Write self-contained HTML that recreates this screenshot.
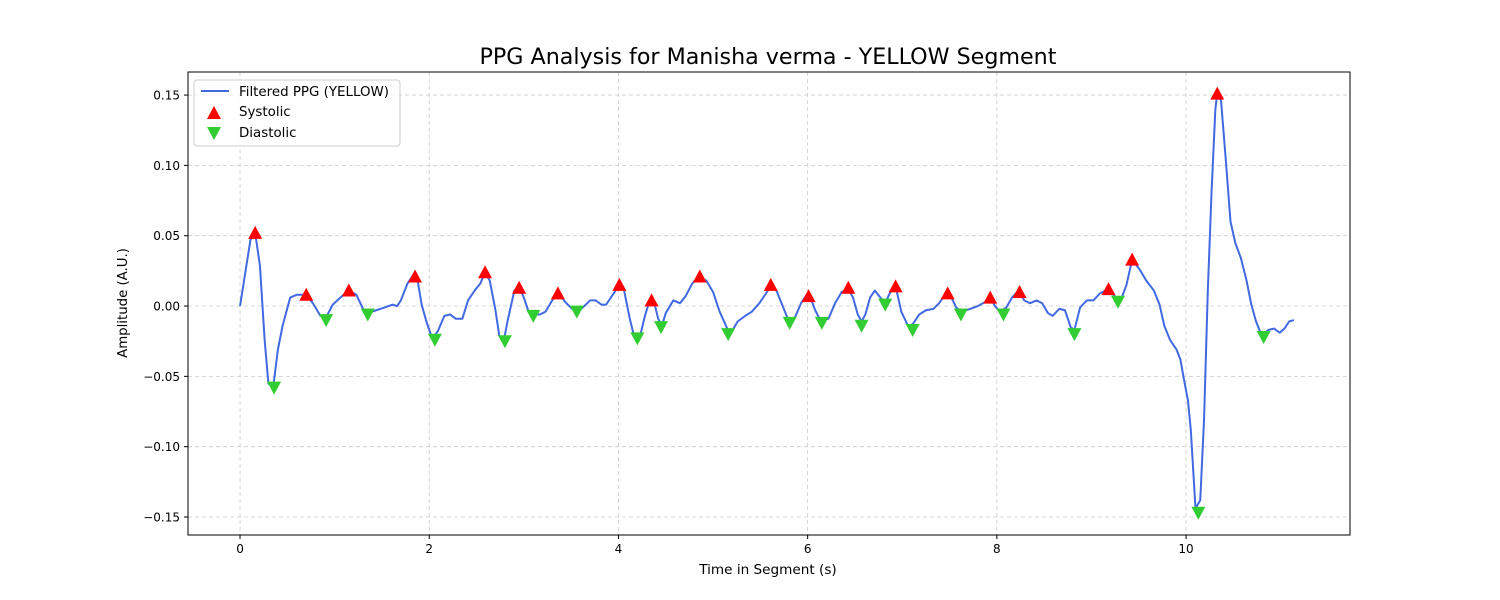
<!DOCTYPE html>
<html><head><meta charset="utf-8"><style>
body{margin:0;background:#fff;}
svg{display:block;font-family:"DejaVu Sans","Liberation Sans",sans-serif;}
</style></head><body>
<svg id="c" width="1500" height="600" xmlns="http://www.w3.org/2000/svg">
<rect width="1500" height="600" fill="#fff"/>
<text x="768" y="64" font-size="22.2" text-anchor="middle" fill="#000">PPG Analysis for Manisha verma - YELLOW Segment</text>
<g id="grid"></g><g id="line"></g><g id="marks"></g>
<rect x="188" y="72" width="1162" height="463" fill="none" stroke="#000" stroke-width="1"/>
<g id="axes"></g>
<text x="768" y="574" font-size="13.6" text-anchor="middle">Time in Segment (s)</text>
<text transform="translate(127,303) rotate(-90)" font-size="13.3" text-anchor="middle">Amplitude (A.U.)</text>
<g>
<rect x="194" y="80" width="206" height="66" rx="3" fill="#fff" fill-opacity="0.8" stroke="#ccc"/>
<line x1="201" y1="91" x2="229" y2="91" stroke="#4169e1" stroke-width="2"/>
<text x="239" y="96" font-size="13.4">Filtered PPG (YELLOW)</text>
<polygon points="214,106 221,119 207,119" fill="red"/>
<text x="239" y="116" font-size="13.4">Systolic</text>
<polygon points="207,127 221,127 214,140" fill="#32cd32"/>
<text x="239" y="137" font-size="13.4">Diastolic</text>
</g>
</svg>
<script>
const xTicks=[0,2,4,6,8,10];
const yTicks=[0.15,0.10,0.05,0.00,-0.05,-0.10,-0.15];
const yTickLabels=["0.15","0.10","0.05","0.00","−0.05","−0.10","−0.15"];
const times=[0,0.11,0.16,0.21,0.26,0.30,0.35,0.40,0.45,0.53,0.60,0.70,0.77,0.85,0.91,0.98,1.06,1.15,1.23,1.30,1.35,1.44,1.53,1.61,1.66,1.70,1.77,1.83,1.88,1.92,1.97,2.03,2.09,2.16,2.22,2.28,2.35,2.41,2.48,2.54,2.59,2.64,2.70,2.74,2.79,2.83,2.90,2.95,3.00,3.05,3.12,3.17,3.23,3.30,3.36,3.40,3.45,3.51,3.57,3.64,3.70,3.76,3.82,3.87,3.93,4.01,4.06,4.12,4.16,4.23,4.28,4.33,4.38,4.42,4.46,4.50,4.58,4.65,4.71,4.78,4.85,4.93,5.00,5.07,5.15,5.19,5.26,5.34,5.41,5.49,5.56,5.61,5.67,5.73,5.79,5.86,5.93,5.99,6.03,6.08,6.14,6.22,6.29,6.36,6.43,6.48,6.53,6.57,6.61,6.66,6.71,6.77,6.82,6.86,6.91,6.94,6.99,7.06,7.11,7.18,7.25,7.33,7.39,7.46,7.52,7.57,7.63,7.72,7.80,7.88,7.93,7.98,8.03,8.10,8.16,8.23,8.29,8.35,8.42,8.48,8.54,8.59,8.66,8.72,8.78,8.82,8.88,8.95,9.02,9.09,9.18,9.26,9.32,9.37,9.43,9.51,9.58,9.66,9.72,9.77,9.83,9.90,9.94,9.98,10.02,10.05,10.10,10.15,10.19,10.23,10.27,10.31,10.33,10.37,10.42,10.47,10.52,10.58,10.64,10.69,10.74,10.80,10.87,10.93,10.99,11.04,11.09,11.14];
const amps=[0,0.047,0.052,0.029,-0.024,-0.055,-0.058,-0.031,-0.014,0.006,0.008,0.008,0.002,-0.007,-0.008,0.001,0.006,0.011,0.008,-0.002,-0.005,-0.003,-0.001,0.001,0,0.004,0.016,0.022,0.017,0.001,-0.011,-0.023,-0.018,-0.007,-0.006,-0.009,-0.009,0.004,0.011,0.016,0.024,0.018,-0.003,-0.021,-0.024,-0.010,0.011,0.014,0.006,-0.004,-0.006,-0.006,-0.004,0.004,0.010,0.006,0.002,-0.002,-0.004,0,0.004,0.004,0.001,0.001,0.007,0.015,0.011,-0.009,-0.020,-0.021,-0.007,0.004,0.002,-0.009,-0.014,-0.005,0.004,0.002,0.007,0.016,0.021,0.018,0.010,-0.004,-0.016,-0.019,-0.011,-0.007,-0.004,0.002,0.009,0.014,0.011,0.001,-0.009,-0.009,0.002,0.008,0.006,-0.003,-0.011,-0.009,0.002,0.010,0.012,0.006,-0.006,-0.011,-0.006,0.006,0.011,0.006,0.002,0.008,0.014,0.011,-0.004,-0.014,-0.013,-0.006,-0.003,-0.002,0.002,0.009,0.006,-0.001,-0.004,-0.002,0,0.003,0.006,0,-0.004,-0.001,0.006,0.011,0.004,0.002,0.004,0.002,-0.005,-0.007,-0.002,-0.003,-0.015,-0.017,-0.001,0.004,0.004,0.009,0.012,0.006,0.006,0.015,0.033,0.026,0.018,0.011,0.001,-0.014,-0.024,-0.031,-0.038,-0.053,-0.067,-0.088,-0.144,-0.138,-0.081,0.011,0.082,0.140,0.151,0.146,0.104,0.060,0.045,0.034,0.018,0.001,-0.011,-0.021,-0.017,-0.016,-0.019,-0.016,-0.011,-0.010];
const sysT=[0.16,0.70,1.15,1.85,2.59,2.95,3.36,4.01,4.35,4.86,5.61,6.01,6.43,6.93,7.48,7.93,8.24,9.18,9.43,10.33];
const sysV=[0.052,0.008,0.011,0.021,0.024,0.013,0.009,0.015,0.004,0.021,0.015,0.007,0.013,0.014,0.009,0.006,0.010,0.012,0.033,0.151];
const diaT=[0.36,0.91,1.35,2.06,2.80,3.10,3.56,4.20,4.45,5.16,5.81,6.15,6.57,6.82,7.11,7.62,8.07,8.82,9.28,10.13,10.82];
const diaV=[-0.058,-0.010,-0.006,-0.024,-0.025,-0.007,-0.004,-0.023,-0.015,-0.020,-0.012,-0.012,-0.014,0.001,-0.017,-0.006,-0.006,-0.020,0.003,-0.147,-0.022];

const NS="http://www.w3.org/2000/svg";
const X0=188,X1=1350,Y0=72,Y1=535,xmin=-0.55,xmax=11.733,ymin=-0.1628,ymax=0.1664;
const sx=t=>X0+(t-xmin)/(xmax-xmin)*(X1-X0);
const sy=v=>Y1-(v-ymin)/(ymax-ymin)*(Y1-Y0);
function mk(tag,attrs,parent){const e=document.createElementNS(NS,tag);for(const k in attrs)e.setAttribute(k,attrs[k]);parent.appendChild(e);return e;}
const grid=document.getElementById('grid'),axes=document.getElementById('axes'),lineG=document.getElementById('line'),marks=document.getElementById('marks');
xTicks.forEach(t=>{const x=sx(t);
 const g=mk('line',{x1:x,x2:x,y1:Y0,y2:Y1,stroke:'#ccc','stroke-dasharray':'4,3','stroke-width':0.8},grid);
 
 
 mk('line',{x1:x,x2:x,y1:Y1,y2:Y1+4,stroke:'#000'},axes);
 const tx=mk('text',{x:x,y:Y1+18,'font-size':12,'text-anchor':'middle'},axes);tx.textContent=t;
 
 });
yTicks.forEach((v,i)=>{const y=sy(v);
 const g=mk('line',{x1:X0,x2:X1,y1:y,y2:y,stroke:'#ccc','stroke-dasharray':'4,3','stroke-width':0.8},grid);
 
 
 mk('line',{x1:X0-4,x2:X0,y1:y,y2:y,stroke:'#000'},axes);
 const tx=mk('text',{x:X0-8,y:y+4.5,'font-size':12,'text-anchor':'end'},axes);tx.textContent=yTickLabels[i];
 
 });
const p=mk('polyline',{points:times.map((t,i)=>sx(t)+','+sy(amps[i])).join(' '),fill:'none',stroke:'#4169e1','stroke-width':2,'stroke-linejoin':'round'},lineG);


sysT.forEach((t,i)=>{const x=sx(t),y=sy(sysV[i]);
 const m=mk('polygon',{points:`${x},${y-7} ${x+7},${y+6} ${x-7},${y+6}`,fill:'red'},marks);
 
 });
diaT.forEach((t,i)=>{const x=sx(t),y=sy(diaV[i]);
 const m=mk('polygon',{points:`${x-7},${y-6} ${x+7},${y-6} ${x},${y+7}`,fill:'#32cd32'},marks);
 
 });
</script>
</body></html>
